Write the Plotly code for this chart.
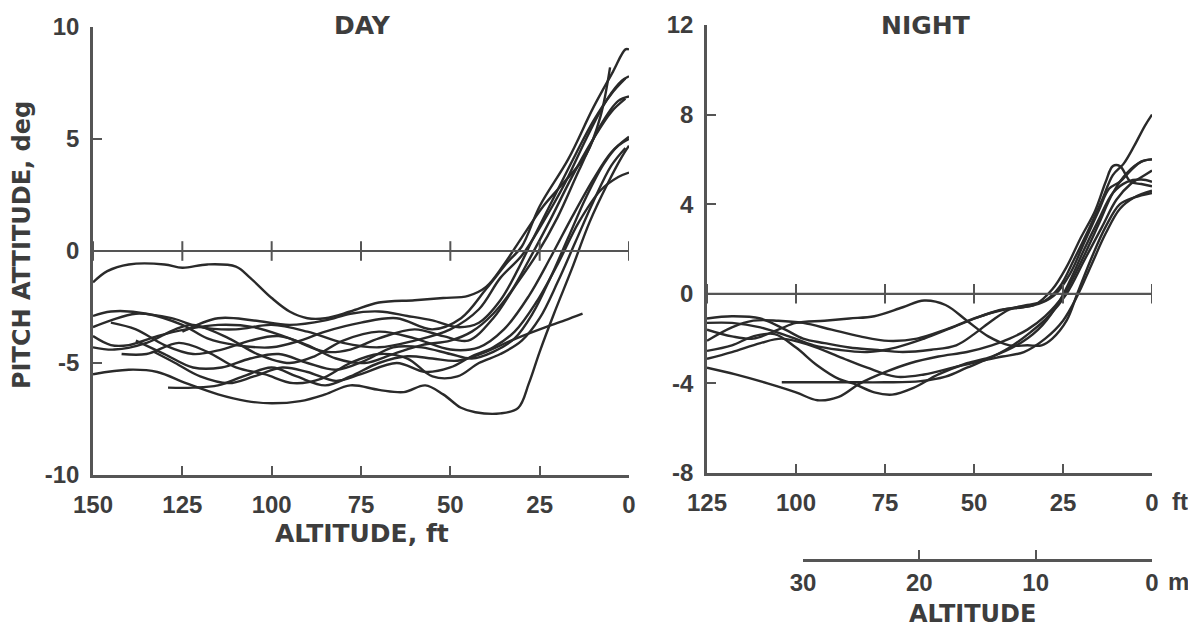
import plotly.graph_objects as go

# ---------------- DATA ----------------
# DAY panel: altitude (ft) and pitch attitude (deg) for each approach trace
day_alt = {
    "D1": [150, 146, 140, 130, 125, 118, 110, 106, 100, 95, 90, 85, 78, 70, 60, 52, 45, 40, 35, 30, 24, 18, 12, 8, 5.3],
    "D2": [150, 145, 135, 125, 118, 110, 100, 92, 85, 75, 65, 55, 47, 40, 34, 30, 25, 17, 10, 4.5, 1, 0],
    "D3": [150, 145, 138, 128, 120, 110, 100, 90, 80, 70, 60, 50, 42, 36, 30, 24, 18, 12, 6, 2, 0],
    "D4": [150, 145, 140, 132, 124, 115, 105, 95, 85, 78, 70, 60, 52, 45, 38, 32, 26, 20, 14, 8, 3, 0],
    "D5": [150, 144, 135, 127, 122, 112, 104, 95, 88, 80, 70, 60, 50, 42, 35, 28, 22, 16, 10, 5, 0],
    "D6": [150, 140, 132, 124, 115, 107, 100, 92, 85, 78, 70, 63, 57, 52, 47, 43, 36, 31, 28, 25, 21, 16, 11, 6, 2, 0],
    "D7": [133, 127, 120, 112, 105, 97, 90, 82, 75, 65, 57, 50, 44, 38, 32, 26, 20, 14, 8, 3, 0],
    "D8": [129, 122, 115, 108, 100, 93, 85, 78, 70, 62, 55, 48, 40, 33, 25, 18, 13],
    "D9": [142, 135, 126, 118, 110, 102, 94, 86, 78, 70, 62, 55, 48, 42, 36, 30, 25, 20, 15, 10, 5, 1],
    "D10": [145, 138, 130, 122, 114, 106, 98, 90, 82, 74, 66, 58, 50, 44, 38, 33, 28, 22, 16, 10, 5, 1],
    "D11": [138, 130, 122, 114, 106, 98, 90, 82, 74, 66, 58, 50, 44, 38, 32, 27, 22, 17, 12, 7, 3, 0],
    "D12": [125, 115, 105, 95, 85, 78, 70, 62, 55, 48, 42, 36, 31, 27, 21, 15, 10, 5, 1],
}
day_pitch = {
    "D1": [-1.4, -0.9, -0.6, -0.6, -0.75, -0.6, -0.7, -1.2, -2.1, -2.7, -3.0, -3.0, -2.7, -2.3, -2.2, -2.1, -2.0, -1.6, -0.6, 0.6, 2.0, 3.1, 4.3, 6.0, 8.2],
    "D2": [-2.9, -2.7, -2.8, -3.3, -3.9, -4.2, -4.3, -4.0, -3.6, -3.2, -3.0, -3.5, -3.0, -1.7, -0.5, 0.2, 2.0, 4.1, 6.4, 8.0, 9.0, 9.0],
    "D3": [-3.4, -3.1, -2.8, -3.0, -3.4, -3.5, -3.3, -3.6, -4.1, -4.3, -4.0, -3.5, -2.6, -1.2, -0.2, 1.3, 3.0, 5.0, 6.8, 7.6, 7.8],
    "D4": [-3.8, -4.2, -4.2, -3.8, -3.5, -3.3, -3.4, -3.9, -4.5, -4.4, -3.9, -3.5, -3.8, -4.0, -3.0, -1.6, -0.2, 1.5, 3.6, 5.6, 6.7, 6.9],
    "D5": [-4.3, -4.4, -4.1, -3.5, -3.3, -3.9, -4.6, -5.0, -4.7, -4.0, -3.6, -3.9, -4.4, -4.3, -3.5, -2.0, -0.3, 1.5, 3.2, 4.4, 5.1],
    "D6": [-5.5, -5.3, -5.4, -5.9, -6.4, -6.7, -6.8, -6.7, -6.4, -6.0, -6.2, -6.3, -6.0, -6.4, -7.0, -7.2, -7.25, -7.0, -5.9, -4.5, -2.8, -0.8, 1.3, 3.0, 4.2, 4.7],
    "D7": [-4.5, -5.0, -5.6, -5.9, -5.6, -5.2, -5.4, -5.8, -5.5, -5.0, -5.4, -5.2, -4.7, -4.3, -3.6, -2.3, -0.6, 1.3, 2.7, 3.3, 3.5],
    "D8": [-6.1, -6.1, -6.0, -5.6, -5.2, -5.6, -6.0, -5.6, -5.0, -4.7, -4.8, -4.9, -4.5, -4.0, -3.5, -3.1, -2.8],
    "D9": [-4.6, -4.6, -4.1, -4.5, -5.2, -5.5, -5.9, -5.7, -5.0, -4.6, -4.8, -5.6, -5.6, -5.0, -4.6, -4.0, -3.0, -1.4, 0.4, 2.2, 3.8, 4.6],
    "D10": [-3.2, -3.5, -4.2, -4.6, -4.4, -4.0, -3.8, -4.2, -4.8, -5.0, -4.6, -4.2, -4.0, -3.6, -2.8, -1.8, -0.4, 1.4, 3.3, 5.0, 6.2, 6.8],
    "D11": [-4.0, -4.6, -5.2, -5.2, -4.8, -4.6, -5.0, -5.3, -4.9, -4.3, -4.3, -4.6, -4.8, -4.5, -3.9, -2.8, -1.2, 0.6, 2.4, 3.9, 4.7, 5.0],
    "D12": [-3.6, -3.0, -3.1, -3.3, -3.1, -2.8, -2.7, -2.9, -3.1, -3.4, -3.2, -2.2, -0.8, 0.5, 2.4, 4.3, 5.8, 7.0, 7.7],
}

# NIGHT panel
night_alt = {
    "N1": [125, 117, 108, 100, 94, 88, 82, 75, 68, 60, 52, 45, 40, 35, 30, 25, 20, 15, 11, 7, 3, 0],
    "N2": [104, 95, 85, 75, 65, 58, 52, 46, 40, 34, 29, 24, 19, 14, 10, 6, 2, 0],
    "N3": [125, 118, 112, 106, 100, 94, 88, 84, 78, 73, 67, 60, 52, 45, 38, 32, 27, 23, 19, 15, 11, 7, 3, 0],
    "N4": [125, 118, 110, 103, 98, 92, 85, 78, 70, 62, 55, 50, 45, 40, 35, 30, 26, 22, 18, 14, 11, 8, 5, 2, 0],
    "N5": [125, 118, 112, 105, 100, 92, 85, 78, 70, 64, 58, 52, 46, 40, 35, 31, 28, 24, 21, 17, 13, 9, 5, 0],
    "N6": [125, 118, 112, 105, 98, 90, 82, 74, 66, 58, 50, 44, 38, 33, 28, 24, 20, 16, 13, 11, 9, 6, 3, 0],
    "N7": [125, 118, 110, 102, 95, 88, 80, 72, 64, 56, 48, 42, 36, 31, 27, 23, 19, 15, 12, 9, 6, 3, 0],
    "N8": [125, 118, 110, 104, 96, 88, 80, 72, 64, 56, 48, 42, 36, 30, 25, 21, 17, 13, 9, 5, 0],
}
night_pitch = {
    "N1": [-3.3, -3.6, -4.0, -4.4, -4.75, -4.6, -4.0, -3.5, -3.1, -2.8, -2.6, -2.3, -2.0, -1.6, -1.0, -0.1, 1.4, 3.1, 4.5, 5.4, 5.9, 6.0],
    "N2": [-3.95, -3.95, -3.95, -3.95, -3.9, -3.7, -3.3, -2.9, -2.4, -1.7, -1.0, 0.0, 1.5, 3.0, 4.2, 4.9, 5.3, 5.5],
    "N3": [-2.55, -2.3, -1.9, -1.8, -2.4, -3.2, -3.8, -4.0, -4.4, -4.5, -4.2, -3.6, -3.1, -2.8, -2.3, -1.6, -0.6, 0.6, 2.0, 3.3, 4.5, 5.0, 5.1, 5.0],
    "N4": [-1.1, -1.0, -1.1, -1.6, -2.0, -2.2, -2.4, -2.5, -2.6, -2.5, -2.3, -1.8, -1.2, -0.7, -0.5, -0.3, 0.3, 1.5, 2.8, 4.2, 5.3, 5.8, 6.6, 7.5, 8.0],
    "N5": [-1.6, -1.9, -2.0, -1.6, -1.3, -1.2, -1.1, -1.0, -0.6, -0.3, -0.5, -1.2, -1.9, -2.3, -2.3, -2.3, -2.0, -1.2, 0.0, 1.6, 3.0, 4.0, 4.3, 4.5],
    "N6": [-2.1, -1.5, -1.2, -1.2, -1.3, -1.6, -1.9, -2.1, -2.0, -1.6, -1.1, -0.8, -0.6, -0.5, 0.2, 1.2, 2.5, 3.7, 5.0, 5.7, 5.7, 5.0, 4.9, 4.8],
    "N7": [-1.3, -1.3, -1.5, -1.9, -2.3, -2.5, -2.6, -2.4, -2.0, -1.5, -1.0, -0.7, -0.6, -0.4, 0.0, 0.9, 2.3, 3.7, 4.7, 5.0, 5.5, 5.9, 6.0],
    "N8": [-2.9, -2.6, -2.2, -2.0, -2.3, -2.8, -3.3, -3.7, -3.6, -3.3, -3.0, -2.8, -2.6, -2.0, -1.2, -0.1, 1.3, 2.7, 3.8, 4.3, 4.6],
}

day_xticks = [150, 125, 100, 75, 50, 25, 0]
day_yticks = [-10, -5, 0, 5, 10]
night_xticks = [125, 100, 75, 50, 25, 0]
night_yticks = [-8, -4, 0, 4, 8, 12]
metric_ticks = [30, 20, 10, 0]

# ---------------- STYLE ----------------
PAGE_W, PAGE_H = 1196, 637
BODY = 8                       # default page margin around the plot div
W, H = PAGE_W - 2 * BODY, PAGE_H - 2 * BODY
INK = "#2a2a2a"
TXT = "#3d3d3d"
FONT = dict(family="Liberation Sans", size=24, color=TXT, weight="bold")
TFONT = dict(family="DejaVu Sans", size=25, color=TXT, weight="bold")


def px_x(p):
    """page pixel -> paper fraction"""
    return (p - BODY) / W


def px_y(p):
    return 1 - (p - BODY) / H


def labels(vals):
    return [str(v) for v in vals]


fig = go.Figure()

for k in day_alt:
    fig.add_trace(go.Scatter(x=day_alt[k], y=day_pitch[k], mode="lines",
                             line=dict(color=INK, width=2.4, shape="spline", smoothing=1.0),
                             xaxis="x", yaxis="y", hoverinfo="skip", showlegend=False))
for k in night_alt:
    fig.add_trace(go.Scatter(x=night_alt[k], y=night_pitch[k], mode="lines",
                             line=dict(color=INK, width=2.4, shape="spline", smoothing=1.0),
                             xaxis="x2", yaxis="y2", hoverinfo="skip", showlegend=False))

# zero reference lines with crossing tick marks
fig.add_trace(go.Scatter(x=day_xticks, y=[0] * len(day_xticks), mode="lines+markers",
                         line=dict(color="#555", width=2.2),
                         marker=dict(symbol="line-ns-open", size=14, line=dict(color="#555", width=2)),
                         xaxis="x", yaxis="y", hoverinfo="skip", showlegend=False))
fig.add_trace(go.Scatter(x=night_xticks, y=[0] * len(night_xticks), mode="lines+markers",
                         line=dict(color="#555", width=2.2),
                         marker=dict(symbol="line-ns-open", size=14, line=dict(color="#555", width=2)),
                         xaxis="x2", yaxis="y2", hoverinfo="skip", showlegend=False))
# invisible trace to carry the metric axis
fig.add_trace(go.Scatter(x=[metric_ticks[0], metric_ticks[-1]], y=[0, 0], mode="lines",
                         line=dict(width=0), opacity=0, xaxis="x3", yaxis="y3",
                         hoverinfo="skip", showlegend=False))

axis_common = dict(showgrid=False, zeroline=False, showline=True, linecolor="#555", linewidth=2.5,
                   ticks="inside", ticklen=9, tickwidth=2.2, tickcolor="#555", tickfont=FONT,
                   fixedrange=True, automargin=False)

fig.update_layout(
    width=W, height=H,
    margin=dict(l=0, r=0, t=0, b=0),
    paper_bgcolor="white", plot_bgcolor="rgba(0,0,0,0)",
    xaxis=dict(domain=[px_x(93), px_x(629)], range=[150, 0], tickvals=day_xticks,
               ticktext=labels(day_xticks), anchor="y", ticklabelstandoff=6, **axis_common),
    yaxis=dict(domain=[px_y(475), px_y(27)], range=[-10, 10], tickvals=day_yticks,
               ticktext=labels(day_yticks), anchor="x", ticklabelstandoff=6, **axis_common),
    xaxis2=dict(domain=[px_x(707), px_x(1152)], range=[125, 0], tickvals=night_xticks,
                ticktext=labels(night_xticks), anchor="y2", ticklabelstandoff=6, **axis_common),
    yaxis2=dict(domain=[px_y(473), px_y(25)], range=[-8, 12], tickvals=night_yticks,
                ticktext=labels(night_yticks), anchor="x2", ticklabelstandoff=6, **axis_common),
    xaxis3=dict(domain=[px_x(803), px_x(1152)], range=[30, 0], tickvals=metric_ticks,
                ticktext=labels(metric_ticks), anchor="y3", ticklabelstandoff=0, **axis_common),
    yaxis3=dict(domain=[px_y(559), px_y(549)], range=[0, 1], visible=False, anchor="x3",
                fixedrange=True),
)

ann = [
    dict(text="DAY", x=px_x(362), y=px_y(25), font=TFONT),
    dict(text="NIGHT", x=px_x(926), y=px_y(25), font=TFONT),
    dict(text="ALTITUDE, ft", x=px_x(362), y=px_y(533), font=TFONT),
    dict(text="ft", x=px_x(1180), y=px_y(501), font=FONT),
    dict(text="m", x=px_x(1178), y=px_y(581), font=FONT),
    dict(text="PITCH ATTITUDE, deg", x=px_x(22), y=px_y(245),
         font=dict(family="DejaVu Sans", size=24, color=TXT, weight="bold"), textangle=-90),
]
for a in ann:
    fig.add_annotation(xref="paper", yref="paper", showarrow=False,
                       xanchor="center", yanchor="middle", **a)
# bottom metric-axis title, kept inside the figure's bottom edge
fig.add_annotation(xref="paper", yref="paper", showarrow=False, text="ALTITUDE",
                   x=px_x(972), y=0, xanchor="center", yanchor="bottom", borderpad=0,
                   font=dict(family="DejaVu Sans", size=24, color=TXT, weight="bold"))

fig.write_html("out.html")
